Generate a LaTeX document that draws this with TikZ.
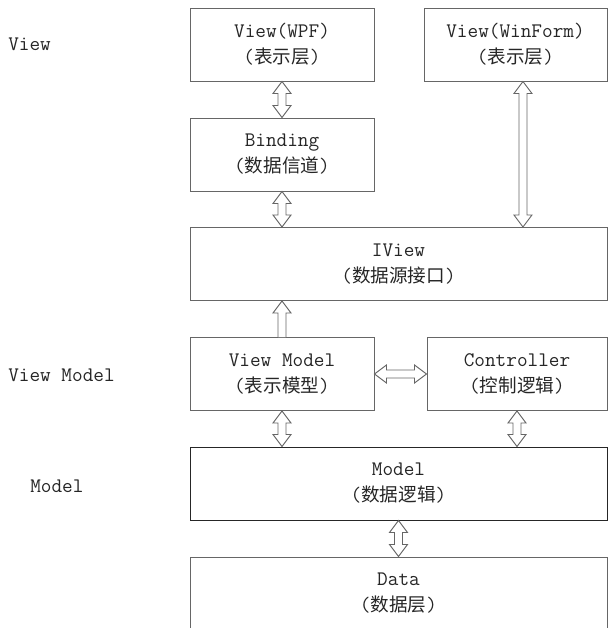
\documentclass[tikz,border=0pt]{standalone}
\usepackage{fontspec}
\setmainfont{Latin Modern Mono}
\newfontfamily\cjk{Noto Sans CJK SC}[Scale=0.9]
\usetikzlibrary{calc, positioning}

\newcommand{\zh}[1]{{\cjk #1}}

\tikzset{
  layer/.style={draw=black!60, line width=0.75pt, inner sep=0pt, align=center,
    minimum height=54.75pt, text=black!85, font=\fontsize{15.5}{19.5}\selectfont},
  tier/.style={anchor=west, inner sep=0pt, text=black!85, font=\fontsize{15.5}{19.5}\selectfont},
  % hollow arrow with a head at both ends
  twoway/.style={draw=black!60, line width=0.7pt, fill=white, to path={
    (\tikztostart)
    -- ($($(\tikztostart)!9pt!(\tikztotarget)$)!6.75pt!90:(\tikztotarget)$)
    -- ($($(\tikztostart)!9pt!(\tikztotarget)$)!3pt!90:(\tikztotarget)$)
    -- ($($(\tikztotarget)!9pt!(\tikztostart)$)!3pt!-90:(\tikztostart)$)
    -- ($($(\tikztotarget)!9pt!(\tikztostart)$)!6.75pt!-90:(\tikztostart)$)
    -- (\tikztotarget)
    -- ($($(\tikztotarget)!9pt!(\tikztostart)$)!6.75pt!90:(\tikztostart)$)
    -- ($($(\tikztotarget)!9pt!(\tikztostart)$)!3pt!90:(\tikztostart)$)
    -- ($($(\tikztostart)!9pt!(\tikztotarget)$)!3pt!-90:(\tikztotarget)$)
    -- ($($(\tikztostart)!9pt!(\tikztotarget)$)!6.75pt!-90:(\tikztotarget)$)
    -- cycle}},
  % hollow arrow with a head at the target only
  oneway/.style={draw=black!60, line width=0.7pt, fill=white, to path={
    ($(\tikztostart)!3pt!90:(\tikztotarget)$)
    -- ($($(\tikztotarget)!9pt!(\tikztostart)$)!3pt!-90:(\tikztostart)$)
    -- ($($(\tikztotarget)!9pt!(\tikztostart)$)!6.75pt!-90:(\tikztostart)$)
    -- (\tikztotarget)
    -- ($($(\tikztotarget)!9pt!(\tikztostart)$)!6.75pt!90:(\tikztostart)$)
    -- ($($(\tikztotarget)!9pt!(\tikztostart)$)!3pt!90:(\tikztostart)$)
    -- ($(\tikztostart)!3pt!-90:(\tikztotarget)$)}}
}

\begin{document}
\begin{tikzpicture}[x=0.75pt, y=-0.75pt]
    \useasboundingbox (0,0) rectangle (608,628);
    \clip (0,0) rectangle (608,628);

    % tiers on the left
    \node[tier] (tview) at (8,44) {View};
    \node[tier] (tvm) at (8,375) {View Model};
    \node[tier] (tmodel) at (30,486) {Model};

    % boxes
    \node[layer, minimum width=138pt] (wpf) at (282,44.5) {View(WPF)\\(\zh{表示层})};
    \node[layer, minimum width=137.25pt] (winform) at (515.5,44.5) {View(WinForm)\\(\zh{表示层})};
    \node[layer, minimum width=138pt] (binding) at (282,154.5) {Binding\\(\zh{数据信道})};
    \node[layer, minimum width=312.75pt] (iview) at (398.5,264) {IView\\(\zh{数据源接口})};
    \node[layer, minimum width=138pt] (vm) at (282,374) {View Model\\(\zh{表示模型})};
    \node[layer, minimum width=135pt] (ctrl) at (517,374) {Controller\\(\zh{控制逻辑})};
    \node[layer, minimum width=312.75pt, draw=black!85] (model) at (398.5,483.5) {Model\\(\zh{数据逻辑})};
    \node[layer, minimum width=312.75pt] (data) at (398.5,593.5) {Data\\(\zh{数据层})};

    \coordinate (wfport) at ([xshift=5.6pt]winform.south);

    % arrows
    \draw[twoway] (wpf.south) to (binding.north);
    \draw[twoway] (binding.south) to (binding.south |- iview.north);
    \draw[twoway] (wfport) to (wfport |- iview.north);
    \draw[oneway] (vm.north) to (vm.north |- iview.south);
    \draw[twoway] (vm.east) to (ctrl.west);
    \draw[twoway] (vm.south) to (vm.south |- model.north);
    \draw[twoway] (ctrl.south) to (ctrl.south |- model.north);
    \draw[twoway] (model.south) to (data.north);
\end{tikzpicture}
\end{document}
